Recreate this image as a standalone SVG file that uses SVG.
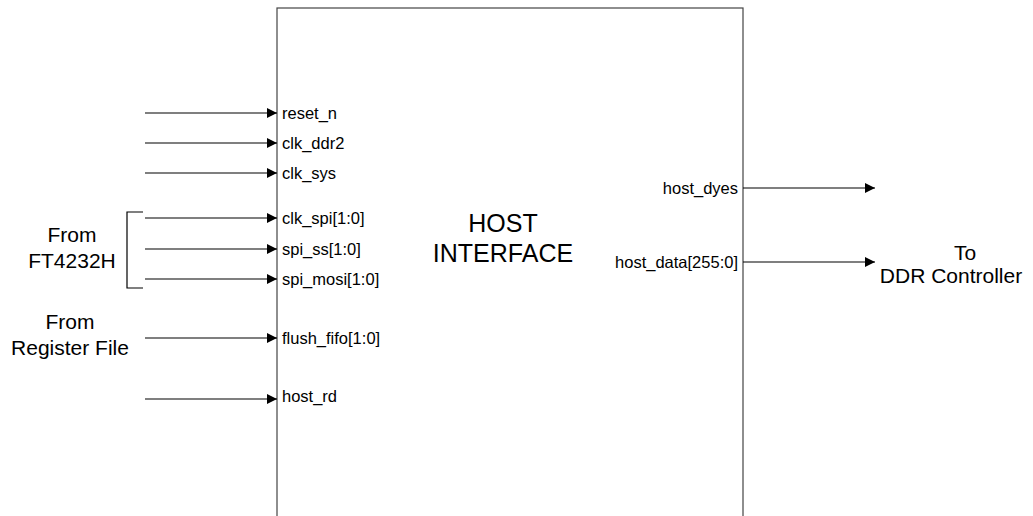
<svg xmlns="http://www.w3.org/2000/svg" width="1033" height="516" viewBox="0 0 1033 516">
<style>
text{font-family:"Liberation Sans",Arial,sans-serif;fill:#000}
.p{font-size:16.5px}
.b{font-size:21px;text-anchor:middle}
.t{font-size:25px;text-anchor:middle}
.w{stroke:#000;stroke-width:1.2;fill:none}
.box{stroke:#444;stroke-width:1.2;fill:#fff}
</style>
<defs>
<marker id="ah" markerWidth="10" markerHeight="10" refX="10" refY="5" orient="auto" markerUnits="userSpaceOnUse">
<path d="M0,0 L10,5 L0,10 Z" fill="#000"/>
</marker>
</defs>
<rect width="1033" height="516" fill="#fff"/>
<g id="host_interface">
<rect class="box" x="277" y="8" width="466" height="520"/>
<text class="t" x="503" y="232">HOST</text>
<text class="t" x="503" y="262">INTERFACE</text>
<text class="p" x="282" y="119">reset_n</text>
<text class="p" x="282" y="149">clk_ddr2</text>
<text class="p" x="282" y="179">clk_sys</text>
<text class="p" x="282" y="224">clk_spi[1:0]</text>
<text class="p" x="282" y="255">spi_ss[1:0]</text>
<text class="p" x="282" y="285">spi_mosi[1:0]</text>
<text class="p" x="282" y="344">flush_fifo[1:0]</text>
<text class="p" x="282" y="402">host_rd</text>
<text class="p" x="738" y="194" text-anchor="end">host_dyes</text>
<text class="p" x="738" y="268" text-anchor="end">host_data[255:0]</text>
</g>
<g id="ft4232h">
<path class="w" d="M143,212 H127 V288 H143"/>
<text class="b" x="72" y="242">From</text>
<text class="b" x="72" y="268">FT4232H</text>
</g>
<g id="register_file">
<text class="b" x="70" y="329">From</text>
<text class="b" x="70" y="355">Register File</text>
</g>
<g id="ddr_controller">
<text class="b" x="965" y="260">To</text>
<text class="b" x="951" y="283">DDR Controller</text>
</g>
<g id="connectors" class="w" marker-end="url(#ah)">
<line x1="145" y1="113" x2="277" y2="113"/>
<line x1="145" y1="143" x2="277" y2="143"/>
<line x1="145" y1="173" x2="277" y2="173"/>
<line x1="145" y1="218" x2="277" y2="218"/>
<line x1="145" y1="249" x2="277" y2="249"/>
<line x1="145" y1="279" x2="277" y2="279"/>
<line x1="145" y1="338" x2="277" y2="338"/>
<line x1="145" y1="399" x2="277" y2="399"/>
<line x1="743" y1="188" x2="875" y2="188"/>
<line x1="743" y1="262" x2="875" y2="262"/>
</g>
</svg>
